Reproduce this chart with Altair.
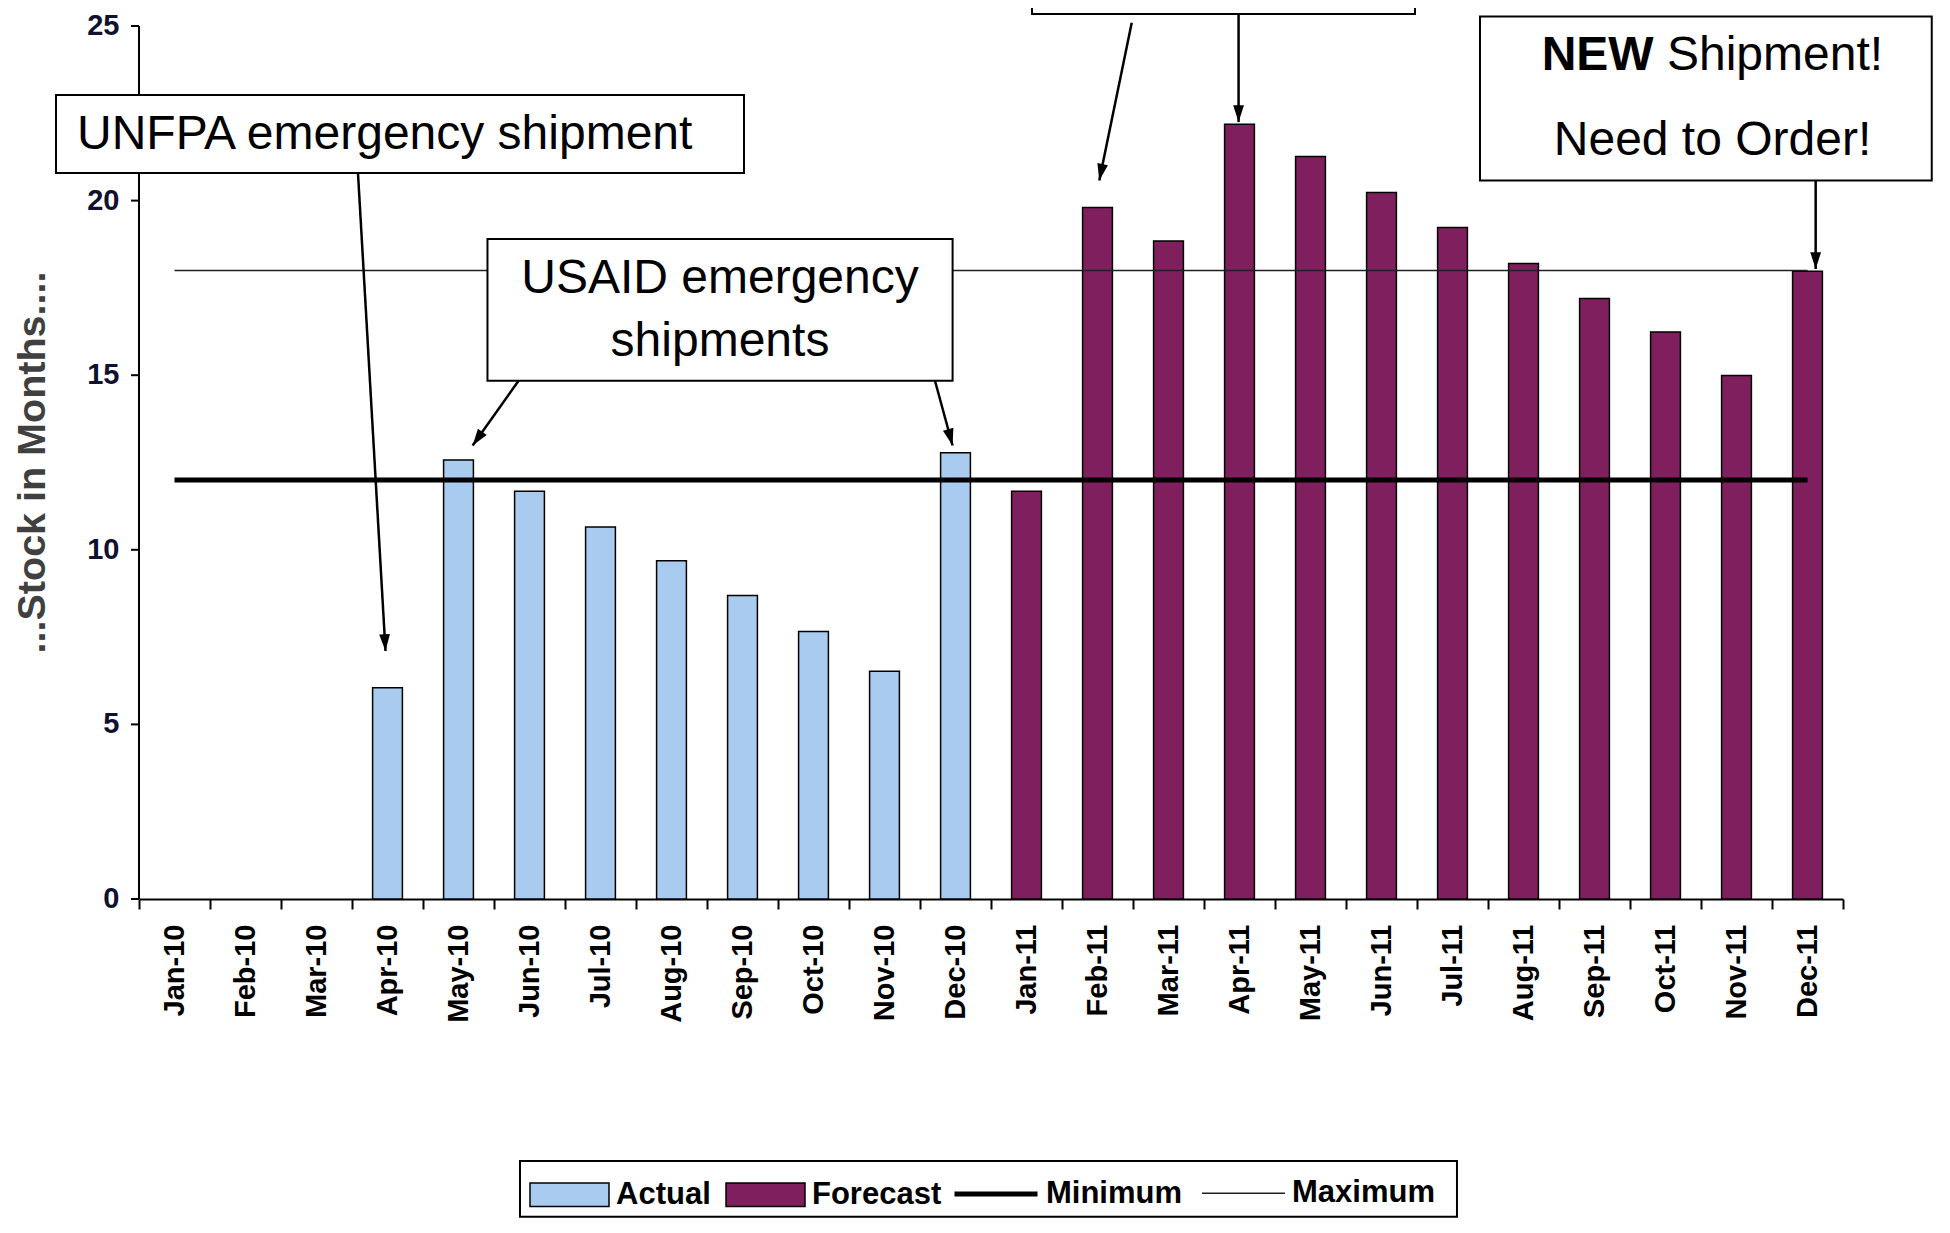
import math
import altair as alt
import pandas as pd

# ---------------- data ----------------
months = ["Jan-10", "Feb-10", "Mar-10", "Apr-10", "May-10", "Jun-10",
          "Jul-10", "Aug-10", "Sep-10", "Oct-10", "Nov-10", "Dec-10",
          "Jan-11", "Feb-11", "Mar-11", "Apr-11", "May-11", "Jun-11",
          "Jul-11", "Aug-11", "Sep-11", "Oct-11", "Nov-11", "Dec-11"]
actual_months = ["Apr-10", "May-10", "Jun-10", "Jul-10", "Aug-10", "Sep-10",
                 "Oct-10", "Nov-10", "Dec-10"]
actual_values = [6.05, 12.57, 11.68, 10.65, 9.69, 8.69, 7.66, 6.52, 12.78]
forecast_months = ["Jan-11", "Feb-11", "Mar-11", "Apr-11", "May-11", "Jun-11",
                   "Jul-11", "Aug-11", "Sep-11", "Oct-11", "Nov-11", "Dec-11"]
forecast_values = [11.68, 19.80, 18.84, 22.19, 21.26, 20.23, 19.23, 18.20,
                   17.20, 16.24, 14.99, 17.98]
minimum_level = 12
maximum_level = 18

# y axis ticks and title
y_ticks = [0, 5, 10, 15, 20, 25]
y_tick_labels = ["0", "5", "10", "15", "20", "25"]
y_title = "...Stock in Months...."

# annotation boxes (x in month-slot units, y in months of stock)
box_x = [-1.169, 4.908, 12.577, 18.887]
box_x2 = [8.521, 11.459, 17.972, 25.25]
box_y = [23.024, 18.900, 30.0, 25.275]
box_y2 = [20.790, 14.840, 25.344, 20.573]

legend_box_x, legend_box_x2 = [5.366], [18.563]
legend_box_y, legend_box_y2 = [-7.50], [-9.10]

left_text = ["UNFPA emergency shipment", "Shipment!"]
left_x = [-0.873, 21.521]
left_y = [21.890, 24.135]
center_text = ["USAID emergency", "shipments", "Need to Order!"]
center_x = [8.183, 8.183, 22.162]
center_y = [17.760, 15.942, 21.713]
bold_text = ["NEW"]
bold_x = [19.756]
bold_y = [24.135]

arr_x = [3.085, 5.346, 11.211, 13.982, 15.487, 23.615]
arr_y = [20.762, 14.840, 14.840, 25.095, 25.344, 20.573]
arr_x2 = [3.472, 4.699, 11.459, 13.525, 15.487, 23.615]
arr_y2 = [7.102, 12.987, 12.987, 20.573, 22.248, 18.041]

# ---------------- tables ----------------
bars_df = pd.DataFrame({
    "month": actual_months + forecast_months,
    "value": actual_values + forecast_values,
    "kind": ["Actual"] * len(actual_months) + ["Forecast"] * len(forecast_months),
})
lines_df = pd.DataFrame({
    "month": months + months,
    "value": [minimum_level] * len(months) + [maximum_level] * len(months),
    "kind": ["Minimum"] * len(months) + ["Maximum"] * len(months),
})
boxes_df = pd.DataFrame({"x": box_x, "x2": box_x2, "y": box_y, "y2": box_y2})
legbox_df = pd.DataFrame({"x": legend_box_x, "x2": legend_box_x2,
                          "y": legend_box_y, "y2": legend_box_y2})
left_df = pd.DataFrame({"t": left_text, "x": left_x, "y": left_y})
center_df = pd.DataFrame({"t": center_text, "x": center_x, "y": center_y})
bold_df = pd.DataFrame({"t": bold_text, "x": bold_x, "y": bold_y})

W, H = 1704, 873
px_x, px_y = W / 24.0, H / 25.0
angles = []
for a, b, c, d in zip(arr_x, arr_y, arr_x2, arr_y2):
    dx = (c - a) * px_x
    dy = -(d - b) * px_y
    angles.append(math.degrees(math.atan2(-dx, dy)) % 360)
arrows_df = pd.DataFrame({"x": arr_x, "y": arr_y, "x2": arr_x2, "y2": arr_y2,
                          "angle": angles})

# y-axis pieces, in slot units left of the plot
tick_len = 8 / px_x
label_gap = 19.6 / px_x
yaxis_line_df = pd.DataFrame({"x": [0.0], "y": [y_ticks[0]], "y2": [y_ticks[-1]]})
yticks_df = pd.DataFrame({"x": [0.0] * len(y_ticks), "x2": [-tick_len] * len(y_ticks),
                          "y": y_ticks})
ylabels_df = pd.DataFrame({"x": [-label_gap] * len(y_ticks), "y": y_ticks,
                           "t": y_tick_labels})
ytitle_df = pd.DataFrame({"x": [-94 / px_x], "y": [(y_ticks[0] + y_ticks[-1]) / 2],
                          "t": [y_title]})

FONT = "Liberation Sans"
ANN_SIZE = 48

# ---------------- scales / axes ----------------
x_band = alt.Scale(domain=months, paddingInner=0, paddingOuter=0)
x_nom_axis = alt.X("month:N", sort=months, scale=x_band,
                   axis=alt.Axis(title=None, labelAngle=270, labelFont=FONT,
                                 labelFontSize=29, labelFontWeight="bold",
                                 labelColor="black", labelPadding=15,
                                 ticks=True, tickBand="extent", tickSize=10,
                                 tickWidth=2, tickColor="black",
                                 domain=True, domainColor="black", domainWidth=2,
                                 grid=False, orient="bottom", labelOverlap=False))
x_nom_plain = alt.X("month:N", sort=months, scale=x_band, axis=None)
y_scale = alt.Scale(domain=[0, 25], nice=False, zero=True)
xq_scale = alt.Scale(domain=[0, 24], nice=False, zero=False)
xq = alt.X("x:Q", scale=xq_scale, axis=None)
yq = alt.Y("y:Q", scale=y_scale, axis=None)

# ---------------- data layers ----------------
bars = alt.Chart(bars_df).mark_bar(stroke="black", strokeWidth=1.5,
                                   width=alt.RelativeBandSize(0.42)).encode(
    x=x_nom_axis,
    y=alt.Y("value:Q", scale=y_scale, axis=None),
    fill=alt.Fill("kind:N",
                  scale=alt.Scale(domain=["Actual", "Forecast"],
                                  range=["#A9CBEF", "#7F1F5E"]),
                  legend=alt.Legend(title=None, orient="none", legendX=390,
                                    legendY=1128, direction="horizontal",
                                    symbolType="M-1,-0.3H1V0.3H-1Z",
                                    symbolSize=6241, symbolStrokeColor="black",
                                    symbolStrokeWidth=1.5, symbolOpacity=1,
                                    labelFont=FONT, labelFontSize=31,
                                    labelFontWeight="bold", labelColor="black",
                                    labelOffset=6, columnPadding=12)),
)

line_legend = alt.Legend(title=None, orient="none", legendX=813,
                         legendY=1124, direction="horizontal",
                         symbolType="stroke", symbolSize=6889,
                         labelFont=FONT, labelFontSize=31,
                         labelFontWeight="bold", labelColor="black",
                         labelOffset=6, columnPadding=16)
lines = alt.Chart(lines_df).mark_line().encode(
    x=x_nom_plain,
    y=alt.Y("value:Q", scale=y_scale, axis=None),
    stroke=alt.Stroke("kind:N",
                      scale=alt.Scale(domain=["Minimum", "Maximum"],
                                      range=["black", "#202020"]),
                      legend=line_legend),
    strokeWidth=alt.StrokeWidth("kind:N",
                                scale=alt.Scale(type="point", domain=["Minimum", "Maximum"],
                                                range=[5, 1.5], padding=0),
                                legend=line_legend),
)

# ---------------- y axis ----------------
yaxis_line = alt.Chart(yaxis_line_df).mark_rule(color="black", strokeWidth=2).encode(
    x=xq, y=yq, y2="y2:Q")
yaxis_ticks = alt.Chart(yticks_df).mark_rule(color="black", strokeWidth=2).encode(
    x=xq, x2="x2:Q", y=yq)
yaxis_labels = alt.Chart(ylabels_df).mark_text(font=FONT, fontSize=29, fontWeight="bold",
                                               align="right", baseline="middle",
                                               color="#101030").encode(
    x=xq, y=yq, text="t:N")
yaxis_title = alt.Chart(ytitle_df).mark_text(font=FONT, fontSize=39.5, fontWeight="bold",
                                             align="center", baseline="alphabetic",
                                             angle=270, color="#404040").encode(
    x=xq, y=yq, text="t:N")

# ---------------- annotations ----------------
boxes = alt.Chart(boxes_df).mark_rect(fill="white", stroke="black", strokeWidth=2).encode(
    x=xq, x2="x2:Q", y=yq, y2="y2:Q")
legbox = alt.Chart(legbox_df).mark_rect(filled=False, stroke="black", strokeWidth=2).encode(
    x=xq, x2="x2:Q", y=yq, y2="y2:Q")
txt_left = alt.Chart(left_df).mark_text(font=FONT, fontSize=ANN_SIZE, align="left",
                                        baseline="middle", color="black").encode(
    x=xq, y=yq, text="t:N")
txt_center = alt.Chart(center_df).mark_text(font=FONT, fontSize=ANN_SIZE, align="center",
                                            baseline="middle", color="black").encode(
    x=xq, y=yq, text="t:N")
txt_bold = alt.Chart(bold_df).mark_text(font=FONT, fontSize=ANN_SIZE, fontWeight="bold",
                                        align="left", baseline="middle",
                                        color="black").encode(
    x=xq, y=yq, text="t:N")
arrows = alt.Chart(arrows_df).mark_rule(color="black", strokeWidth=2.5).encode(
    x=xq, x2="x2:Q", y=yq, y2="y2:Q")
heads = alt.Chart(arrows_df).mark_point(shape="M-0.45,-1.4L0.45,-1.4L0,0Z",
                                        filled=True, color="black", opacity=1,
                                        size=576).encode(
    x=alt.X("x2:Q", scale=xq_scale, axis=None),
    y=alt.Y("y2:Q", scale=y_scale, axis=None),
    angle=alt.Angle("angle:Q", scale=None))

chart = alt.layer(
    bars, lines, yaxis_line, yaxis_ticks, yaxis_labels, yaxis_title,
    boxes, legbox, txt_left, txt_center, txt_bold, arrows, heads
).resolve_scale(x="independent").properties(
    width=W, height=H,
    padding={"left": 131, "top": 18, "right": 91, "bottom": 321},
    autosize=alt.AutoSizeParams(type="none"),
).configure_axis(grid=False).configure_view(stroke=None)

chart.save("out.html", embed_options={"renderer": "svg", "actions": False})
